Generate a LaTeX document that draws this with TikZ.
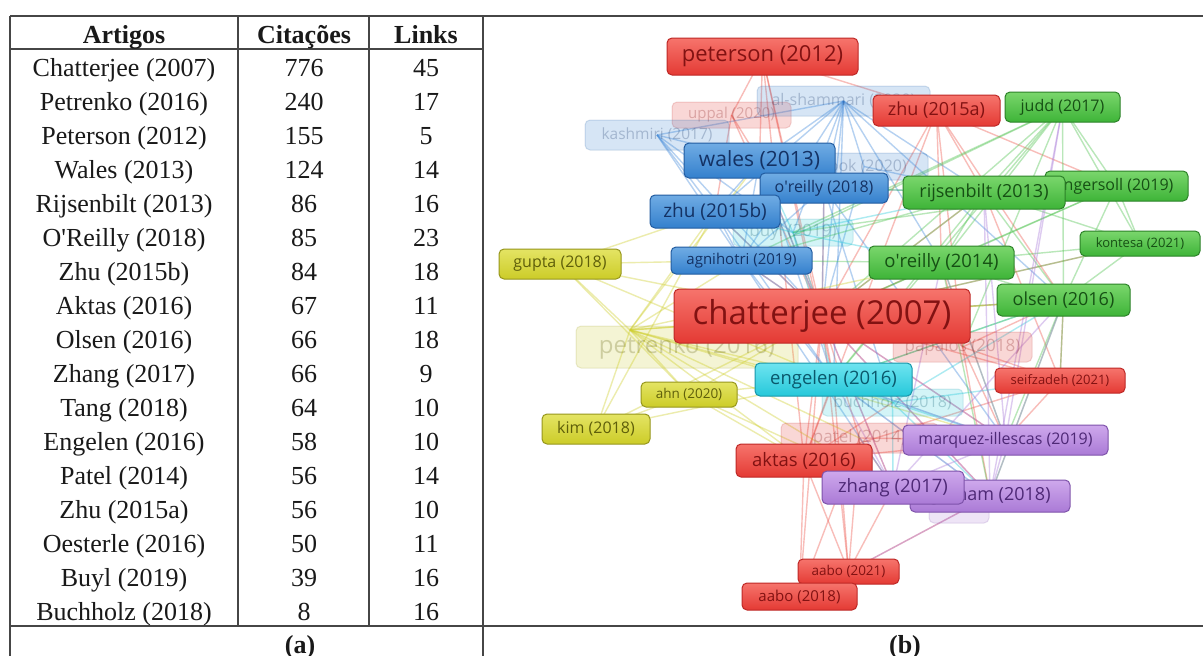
\documentclass[tikz,border=0pt]{standalone}
\usepackage{fontspec}
\setmainfont{Liberation Serif}
\newfontfamily\vosfont{Open Sans}
\usetikzlibrary{backgrounds}
\definecolor{rtop}{RGB}{246,116,108}\definecolor{rbot}{RGB}{228,58,52}\definecolor{rdraw}{RGB}{190,40,38}\definecolor{rtext}{RGB}{130,18,18}
\definecolor{btop}{RGB}{112,172,228}\definecolor{bbot}{RGB}{52,128,205}\definecolor{bdraw}{RGB}{34,92,160}\definecolor{btext}{RGB}{20,50,100}
\definecolor{gtop}{RGB}{122,214,108}\definecolor{gbot}{RGB}{62,180,56}\definecolor{gdraw}{RGB}{44,130,40}\definecolor{gtext}{RGB}{22,80,20}
\definecolor{ytop}{RGB}{228,228,100}\definecolor{ybot}{RGB}{204,204,40}\definecolor{ydraw}{RGB}{150,150,28}\definecolor{ytext}{RGB}{95,95,10}
\definecolor{ctop}{RGB}{110,228,240}\definecolor{cbot}{RGB}{38,200,218}\definecolor{cdraw}{RGB}{24,150,170}\definecolor{ctext}{RGB}{10,88,108}
\definecolor{ptop}{RGB}{206,168,236}\definecolor{pbot}{RGB}{170,122,214}\definecolor{pdraw}{RGB}{126,82,170}\definecolor{ptext}{RGB}{78,40,118}
\definecolor{ered}{RGB}{238,90,80}\definecolor{eblue}{RGB}{70,140,220}\definecolor{ecyan}{RGB}{50,205,222}
\definecolor{egreen}{RGB}{80,195,80}\definecolor{eyellow}{RGB}{208,208,50}\definecolor{epurple}{RGB}{170,125,218}
\definecolor{tline}{RGB}{70,70,70}\definecolor{ttext}{RGB}{25,25,25}
\tikzset{
  vb/.style={rounded corners=5pt, line width=1pt, inner sep=0pt},
  nd/.style={vb, top color=#1top, bottom color=#1bot, draw=#1draw, text=#1text},
  fd/.style={vb, fill=#1bot, fill opacity=0.2, draw=#1draw, draw opacity=0.18, text=#1text, text opacity=0.26},
  bx/.style n args={3}{minimum width=#1pt, minimum height=#2pt, font=\vosfont\fontsize{#3}{#3}\selectfont},
  edge/.style={draw=#1, line width=1.4pt, draw opacity=0.4},
  tbl/.style={draw=tline, line width=1.3pt},
  cell/.style={anchor=base, text=ttext, inner sep=0pt, font=\fontsize{26}{26}\selectfont},
  head/.style={cell, font=\fontsize{26}{26}\selectfont\bfseries}
}
\begin{document}
\begin{tikzpicture}[x=1pt,y=-1pt]
\useasboundingbox (0,0) rectangle (1203,656);
\begin{scope}[on background layer]
\fill[white] (0,0) rectangle (1203,656);
\end{scope}

% ---------- table ----------
\draw[tbl] (10,16) -- (1203,16);
\draw[tbl] (10,49) -- (483,49);
\draw[tbl] (10,626) -- (1203,626);
\draw[tbl] (10,16) -- (10,656);
\draw[tbl] (238,16) -- (238,626);
\draw[tbl] (369,16) -- (369,626);
\draw[tbl] (483,16) -- (483,656);
\node[head] (hart) at (124,43) {Artigos};
\node[head] (hcit) at (304,43) {Citações};
\node[head] (hlnk) at (426,43) {Links};
\foreach \n/\c/\l [count=\i] in {Chatterjee (2007)/776/45, Petrenko (2016)/240/17, Peterson (2012)/155/5, Wales (2013)/124/14, Rijsenbilt (2013)/86/16, O\textquotesingle Reilly (2018)/85/23, Zhu (2015b)/84/18, Aktas (2016)/67/11, Olsen (2016)/66/18, Zhang (2017)/66/9, Tang (2018)/64/10, Engelen (2016)/58/10, Patel (2014)/56/14, Zhu (2015a)/56/10, Oesterle (2016)/50/11, Buyl (2019)/39/16, Buchholz (2018)/8/16}{
  \node[cell] (art\i) at (124,42+34*\i) {\n};
  \node[cell] (cit\i) at (304,42+34*\i) {\c};
  \node[cell] (lnk\i) at (426,42+34*\i) {\l};
}
\node[head] (capa) at (300,653) {(a)};
\node[head] (capb) at (905,653) {(b)};

% ---------- network: faded labels ----------
\node[fd=r, bx={119}{26}{15}] (uppal) at (731.5,115) {uppal (2020)};
\node[fd=b, bx={144}{30}{15.5}] (kashmiri) at (657,135) {kashmiri (2017)};
\node[fd=b, bx={173}{30}{16}] (alsham) at (843.5,101) {al-shammari (2020)};
\node[fd=b, bx={128}{27}{16}] (cook) at (864,166.5) {cook (2020)};
\node[fd=c, bx={120}{27}{17}] (buyl) at (793,232.5) {buyl (2019)};
\node[fd=y, bx={222}{42}{24}] (petrenko) at (687,347) {petrenko (2016)};
\node[fd=r, bx={139}{30}{17}] (papalos) at (962.5,347) {papalos (2018)};
\node[fd=c, bx={141}{27}{16}] (buchholz) at (892.5,402.5) {buchholz (2018)};
\node[fd=r, bx={157}{30}{17}] (patel) at (859.5,438) {patel (2014)};
\node[fd=p, bx={60}{20}{12}] (tang) at (959,513) {};
\coordinate (pk) at (630,330);

% ---------- network: labels ----------
\node[nd=r, bx={191}{37}{22}] (peterson) at (762.5,56.5) {peterson (2012)};
\node[nd=r, bx={127}{31}{18}] (zhu15a) at (936.5,110.5) {zhu (2015a)};
\node[nd=g, bx={115}{30}{16}] (judd) at (1062.5,107) {judd (2017)};
\node[nd=b, bx={151}{35}{21}] (wales) at (759.5,160.5) {wales (2013)};
\node[nd=b, bx={128}{30}{16}] (oreilly18) at (824,188) {o\textquotesingle reilly (2018)};
\node[nd=g, bx={143}{30}{16}] (ingersoll) at (1116.5,186) {ingersoll (2019)};
\node[nd=g, bx={162}{33}{18}] (rijsenbilt) at (984,192.5) {rijsenbilt (2013)};
\node[nd=b, bx={130}{33}{19}] (zhu15b) at (715,211.5) {zhu (2015b)};
\node[nd=g, bx={120}{25}{13}] (kontesa) at (1140,243.5) {kontesa (2021)};
\node[nd=y, bx={122}{30}{16}] (gupta) at (560,264) {gupta (2018)};
\node[nd=b, bx={141}{27}{15}] (agnihotri) at (741.5,260.5) {agnihotri (2019)};
\node[nd=g, bx={145}{33}{18.5}] (oreilly14) at (941.5,262.5) {o\textquotesingle reilly (2014)};
\node[nd=g, bx={133}{32}{18}] (olsen) at (1063.5,300) {olsen (2016)};
\node[nd=r, bx={296}{54}{33}] (chatterjee) at (822,316) {chatterjee (2007)};
\node[nd=c, bx={157}{33}{18.5}] (engelen) at (833.5,379.5) {engelen (2016)};
\node[nd=r, bx={130}{25}{13}] (seifzadeh) at (1060,380.5) {seifzadeh (2021)};
\node[nd=y, bx={96}{25}{13.5}] (ahn) at (689,394.5) {ahn (2020)};
\node[nd=y, bx={108}{30}{16}] (kim) at (596,429) {kim (2018)};
\node[nd=p, bx={205}{30}{16}] (marquez) at (1005.5,440) {marquez-illescas (2019)};
\node[nd=r, bx={136}{33}{18.5}] (aktas) at (804,460.5) {aktas (2016)};
\node[nd=p, bx={160}{32}{18}] (graham) at (990,496) {graham (2018)};
\node[nd=p, bx={142}{33}{18.5}] (zhang) at (893,487.5) {zhang (2017)};
\node[nd=r, bx={101}{25}{13.5}] (aabo21) at (848.5,571.5) {aabo (2021)};
\node[nd=r, bx={115}{27}{15}] (aabo18) at (799.5,596.5) {aabo (2018)};

% ---------- network: links ----------
\begin{scope}[on background layer]
\foreach \a/\b in {peterson/uppal, peterson/chatterjee, peterson/aktas, peterson/zhu15a, peterson/engelen, peterson/wales,
  zhu15a/chatterjee, zhu15a/rijsenbilt, zhu15a/olsen, zhu15a/ingersoll, zhu15a/aktas, zhu15a/papalos, zhu15a/oreilly14,
  chatterjee/aktas, chatterjee/aabo21, chatterjee/aabo18, chatterjee/engelen, chatterjee/seifzadeh, chatterjee/wales, chatterjee/zhu15b,
  chatterjee/oreilly18, chatterjee/rijsenbilt, chatterjee/olsen, chatterjee/marquez, chatterjee/zhang, chatterjee/graham, chatterjee/patel,
  chatterjee/oreilly14, chatterjee/agnihotri, chatterjee/buyl, chatterjee/kontesa,
  aabo21/aktas, aabo21/zhang, aabo21/graham, aabo21/aabo18, aabo21/engelen, aabo21/patel, aabo18/aktas, aabo18/patel,
  aktas/engelen, aktas/zhang, aktas/marquez, aktas/buchholz, aktas/seifzadeh,
  seifzadeh/papalos, seifzadeh/olsen, seifzadeh/rijsenbilt, seifzadeh/marquez,
  uppal/zhu15b, uppal/wales, uppal/chatterjee, papalos/olsen, papalos/oreilly14, papalos/marquez, papalos/graham,
  patel/marquez, patel/zhang}
  \draw[edge=ered] (\a.center) -- (\b.center);
\foreach \a/\b in {alsham/wales, alsham/kashmiri, alsham/zhu15b, alsham/oreilly18, alsham/agnihotri, alsham/chatterjee, alsham/buyl,
  alsham/rijsenbilt, alsham/oreilly14, alsham/cook, alsham/engelen, alsham/olsen,
  kashmiri/zhu15b, kashmiri/wales, kashmiri/chatterjee, kashmiri/agnihotri, kashmiri/buyl,
  wales/zhu15b, wales/oreilly18, wales/agnihotri, wales/chatterjee, wales/engelen,
  oreilly18/chatterjee, oreilly18/agnihotri, oreilly18/rijsenbilt, oreilly18/buchholz, oreilly18/marquez,
  zhu15b/agnihotri, zhu15b/chatterjee, zhu15b/engelen, agnihotri/chatterjee, agnihotri/zhang, agnihotri/engelen,
  cook/rijsenbilt, cook/chatterjee}
  \draw[edge=eblue] (\a.center) -- (\b.center);
\foreach \a/\b in {buyl/chatterjee, buyl/engelen, buyl/rijsenbilt, buyl/oreilly14, buyl/zhu15b, buyl/wales,
  engelen/buchholz, engelen/marquez, engelen/olsen, engelen/graham,
  buchholz/marquez, buchholz/seifzadeh, buchholz/zhang, buchholz/graham, buchholz/olsen}
  \draw[edge=ecyan] (\a.center) -- (\b.center);
\foreach \a/\b in {judd/rijsenbilt, judd/oreilly14, judd/olsen, judd/chatterjee, judd/ingersoll, judd/kontesa, judd/engelen,
  judd/buyl, judd/papalos, judd/agnihotri,
  rijsenbilt/oreilly14, rijsenbilt/olsen, rijsenbilt/chatterjee, rijsenbilt/ingersoll, rijsenbilt/kontesa, rijsenbilt/agnihotri,
  rijsenbilt/engelen, rijsenbilt/oreilly18,
  ingersoll/oreilly14, ingersoll/olsen, ingersoll/chatterjee, ingersoll/kontesa, ingersoll/buyl,
  kontesa/oreilly14, kontesa/olsen, kontesa/chatterjee,
  oreilly14/olsen, oreilly14/chatterjee, oreilly14/graham, oreilly14/marquez, oreilly14/agnihotri,
  olsen/chatterjee, olsen/graham, olsen/marquez, olsen/seifzadeh, olsen/engelen}
  \draw[edge=egreen] (\a.center) -- (\b.center);
\foreach \a/\b in {pk/gupta, pk/ahn, pk/kim, pk/chatterjee, pk/engelen, pk/aktas, pk/zhu15b, pk/agnihotri, pk/wales,
  pk/oreilly14, pk/buchholz, pk/zhang, pk/patel, pk/olsen, pk/marquez,
  gupta/chatterjee, gupta/zhu15b, gupta/ahn, gupta/engelen, gupta/agnihotri,
  ahn/kim, ahn/chatterjee, ahn/engelen, ahn/aktas, ahn/zhang, kim/chatterjee, kim/engelen, kim/zhu15b}
  \draw[edge=eyellow] (\a.center) -- (\b.center);
\foreach \a/\b in {marquez/zhang, marquez/graham, marquez/chatterjee, marquez/rijsenbilt, marquez/judd, marquez/oreilly14, marquez/engelen,
  zhang/graham, zhang/engelen, zhang/chatterjee, zhang/oreilly14, zhang/olsen,
  graham/chatterjee, graham/rijsenbilt, graham/judd, graham/olsen, graham/engelen, graham/aabo21}
  \draw[edge=epurple] (\a.center) -- (\b.center);
\end{scope}
\end{tikzpicture}
\end{document}
